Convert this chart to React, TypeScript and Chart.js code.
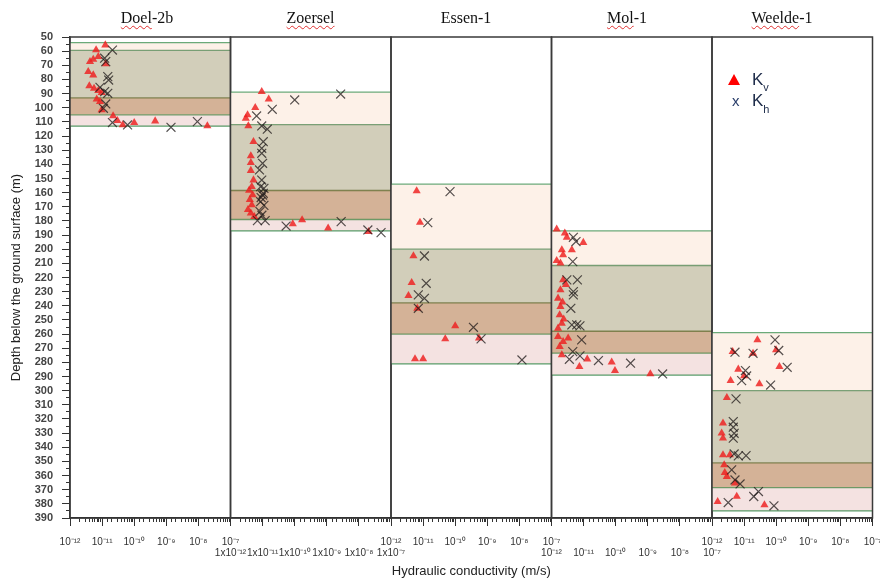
import React, { useEffect, useRef } from 'react';
import { Chart, registerables } from 'chart.js';
Chart.register(...registerables);

// ---------- data ----------
const wells = ['Doel-2b', 'Zoersel', 'Essen-1', 'Mol-1', 'Weelde-1'];
const xMin = 1e-12;
const xMax = 1e-7;
const depthMin = 50;
const depthMax = 390;

// band boundaries (depth, m): peach / olive / brown / pink
const doelBands = [54, 59.5, 93, 105, 113];
const zoerselBands = [89, 112, 158.5, 179, 187];
const essenBands = [154, 200, 238, 260, 281];
const molBands = [187, 211.5, 258, 273.5, 289];
const weeldeBands = [259, 300, 351, 368.5, 385];

// [K (m/s), depth (m)]
const doelKv = [[1.26e-11, 55.7], [6.5e-12, 59.2], [7.6e-12, 63.9], [5.3e-12, 65.8], [4.2e-12, 67.4], [1.3e-11, 69.1], [3.7e-12, 74.5], [5.3e-12, 76.9], [4.0e-12, 84.6], [5.6e-12, 86.3], [7.6e-12, 87.9], [9.7e-12, 89.3], [6.8e-12, 94.0], [8.6e-12, 95.7], [9.7e-12, 101.6], [2.2e-11, 105.8], [3.0e-11, 109.1], [4.4e-11, 112.2], [1.0e-10, 110.5], [4.5e-10, 109.4], [1.9e-8, 112.9]];
const doelKh = [[2.1e-11, 59.2], [1.2e-11, 65.0], [1.3e-11, 67.4], [1.5e-11, 78.0], [1.6e-11, 80.4], [8.6e-12, 85.6], [1.2e-11, 88.6], [1.5e-11, 89.8], [1.3e-11, 97.3], [1.1e-11, 100.4], [2.1e-11, 110.5], [6.2e-11, 112.2], [1.4e-9, 113.8], [9.3e-9, 109.8]];

const zoerselKv = [[9.4e-12, 88.6], [1.55e-11, 94.0], [5.9e-12, 99.9], [3.4e-12, 105.1], [3.0e-12, 107.5], [3.6e-12, 112.9], [5.2e-12, 124.0], [4.3e-12, 134.1], [4.3e-12, 138.8], [4.3e-12, 144.4], [5.2e-12, 151.1], [4.6e-12, 155.8], [3.8e-12, 158.5], [4.9e-12, 161.7], [4.0e-12, 165.0], [4.6e-12, 168.7], [3.5e-12, 172.0], [4.3e-12, 174.6], [5.5e-12, 177.0], [8.7e-11, 182.2], [1.7e-10, 179.3], [1.1e-9, 185.2], [2.0e-8, 187.6]];
const zoerselKh = [[2.7e-9, 90.3], [1.0e-10, 94.5], [2.0e-11, 101.1], [6.5e-12, 105.8], [9.4e-12, 112.9], [1.4e-11, 115.2], [1.05e-11, 124.0], [9.4e-12, 128.7], [9.4e-12, 132.2], [1.0e-11, 139.3], [8.0e-12, 144.0], [9.4e-12, 151.1], [8.7e-12, 155.8], [1.1e-11, 157.0], [1.05e-11, 160.5], [1.0e-11, 161.7], [9.0e-12, 163.5], [8.7e-12, 166.4], [1.1e-11, 169.0], [8.3e-12, 173.4], [9.5e-12, 176.0], [6.9e-12, 179.8], [1.2e-11, 179.8], [5.4e-11, 183.6], [2.8e-9, 180.5], [1.9e-8, 186.4], [4.9e-8, 188.3]];

const essenKv = [[6.3e-12, 158.8], [8.0e-12, 181.0], [5.0e-12, 204.8], [4.4e-12, 223.6], [3.5e-12, 232.8], [6.6e-12, 241.8], [1.0e-10, 254.2], [4.9e-11, 263.4], [5.5e-10, 262.9], [5.6e-12, 277.6], [1.0e-11, 277.6]];
const essenKh = [[6.9e-11, 159.3], [1.4e-11, 181.2], [1.1e-11, 204.8], [1.25e-11, 224.1], [7.1e-12, 232.3], [1.1e-11, 234.7], [7.1e-12, 241.8], [3.7e-10, 255.2], [6.4e-10, 263.4], [1.2e-8, 278.3]];

const molKv = [[1.45e-12, 185.9], [2.6e-12, 188.7], [3.0e-12, 191.6], [9.8e-12, 195.3], [4.3e-12, 200.5], [2.1e-12, 200.5], [2.3e-12, 204.1], [1.45e-12, 208.1], [1.9e-12, 209.9], [2.3e-12, 221.7], [2.8e-12, 225.0], [1.9e-12, 228.8], [1.6e-12, 234.7], [2.2e-12, 237.5], [1.9e-12, 240.6], [1.8e-12, 246.5], [2.4e-12, 249.5], [2.1e-12, 252.4], [1.6e-12, 255.9], [1.6e-12, 261.8], [3.3e-12, 262.9], [2.3e-12, 265.3], [1.8e-12, 268.8], [2.1e-12, 274.7], [7.4e-12, 283.0], [1.3e-11, 277.8], [7.5e-11, 279.9], [9.5e-11, 285.8], [1.2e-9, 288.2]];
const molKh = [[4.8e-12, 191.6], [5.8e-12, 194.6], [4.6e-12, 208.8], [6.4e-12, 221.7], [3.0e-12, 221.7], [4.8e-12, 230.0], [4.8e-12, 232.3], [4.0e-12, 241.8], [4.3e-12, 253.5], [6.1e-12, 253.5], [7.7e-12, 254.2], [8.7e-12, 264.1], [4.6e-12, 272.4], [3.6e-12, 277.8], [7.7e-12, 275.4], [2.9e-11, 278.7], [2.9e-10, 280.6], [2.9e-9, 288.2]];

const weeldeKv = [[2.6e-11, 264.1], [4.4e-12, 272.4], [1.9e-11, 273.6], [9.9e-11, 271.2], [6.6e-12, 284.9], [1.0e-11, 289.6], [1.26e-10, 283.0], [3.8e-12, 292.9], [3.0e-11, 295.2], [2.9e-12, 304.9], [2.2e-12, 323.0], [2.0e-12, 330.1], [2.2e-12, 333.6], [2.2e-12, 345.4], [3.6e-12, 345.4], [2.4e-12, 352.5], [2.5e-12, 357.9], [2.9e-12, 360.7], [5.2e-12, 365.4], [5.9e-12, 374.8], [1.5e-12, 378.4], [4.3e-11, 380.7]];
const weeldeKh = [[9.2e-11, 264.1], [5.2e-12, 272.8], [1.9e-11, 273.6], [1.2e-10, 271.6], [2.2e-10, 283.5], [1.1e-11, 285.8], [1.2e-11, 289.6], [8.4e-12, 292.9], [6.7e-11, 296.0], [5.6e-12, 305.8], [4.6e-12, 321.8], [4.6e-12, 325.8], [4.9e-12, 330.1], [4.6e-12, 333.6], [4.9e-12, 344.7], [6.6e-12, 346.1], [1.15e-11, 345.9], [4.1e-12, 356.0], [5.2e-12, 363.1], [7.5e-12, 365.9], [3.2e-12, 379.1], [2.0e-11, 374.8], [2.8e-11, 371.3], [8.5e-11, 381.4]];

const bandSets = [doelBands, zoerselBands, essenBands, molBands, weeldeBands];
const kvSets = [doelKv, zoerselKv, essenKv, molKv, weeldeKv];
const khSets = [doelKh, zoerselKh, essenKh, molKh, weeldeKh];

// ---------- styling / layout ----------
const W = 880;
const H = 581;
const edges = [70, 230.5, 391, 551.5, 712, 872.5];
const plotTop = 37;
const xAxisHeight = 63;
const titleCenters = [147, 310.5, 466, 627, 782];
const labelRow = [0, 1, 0, 1, 0];
const labelPrefix = ['', '1x', '', '', ''];
const bandFills = ['#FDF1E8', '#D2CEBA', '#D4B297', '#F4E2E1'];
const boundaryColors = ['rgba(70,150,90,0.8)', 'rgba(90,140,90,0.8)', 'rgba(110,115,60,0.85)', 'rgba(80,140,80,0.8)', 'rgba(60,140,80,0.85)'];

const SUP: Record<string, string> = { '-': '\u207B', '0': '\u2070', '1': '\u00B9', '2': '\u00B2', '3': '\u00B3', '4': '\u2074', '5': '\u2075', '6': '\u2076', '7': '\u2077', '8': '\u2078', '9': '\u2079' };
const sup = (n: number) => String(n).split('').map((c) => SUP[c] || c).join('');
const isDecade = (v: number) => Math.abs(Math.log10(v) - Math.round(Math.log10(v))) < 1e-6;

const framePlugin = {
  id: 'frame',
  afterDraw(chart: any) {
    const { ctx, chartArea: a } = chart;
    ctx.save();
    ctx.strokeStyle = '#3a3a3a';
    ctx.lineWidth = 1.5;
    ctx.strokeRect(a.left, a.top, a.right - a.left, a.bottom - a.top);
    ctx.restore();
  },
};

function buildConfig(i: number): any {
  const first = i === 0;
  const datasets: any[] = [
    {
      label: 'Kh',
      data: khSets[i].map(([x, y]) => ({ x, y })),
      showLine: false,
      pointStyle: 'crossRot',
      pointRadius: 6.3,
      pointBorderColor: 'rgba(30,24,24,0.75)',
      pointBackgroundColor: 'rgba(0,0,0,0)',
      pointBorderWidth: 1.2,
      order: 0,
      xAxisID: 'x',
      yAxisID: 'y',
    },
    {
      label: 'Kv',
      data: kvSets[i].map(([x, y]) => ({ x, y })),
      showLine: false,
      pointStyle: 'triangle',
      pointRadius: 4.7,
      pointBackgroundColor: 'rgba(238,30,30,0.82)',
      pointBorderWidth: 0,
      order: 1,
      xAxisID: 'x',
      yAxisID: 'y',
    },
  ];
  const bands = bandSets[i];
  bands.forEach((d, j) => {
    datasets.push({
      label: 'band' + j,
      data: [{ x: xMin, y: d }, { x: xMax, y: d }],
      borderColor: boundaryColors[j],
      borderWidth: 1.3,
      pointRadius: 0,
      tension: 0,
      fill: j < bands.length - 1 ? '+1' : false,
      backgroundColor: j < bandFills.length ? bandFills[j] : 'rgba(0,0,0,0)',
      order: 2,
      xAxisID: 'x',
      yAxisID: 'y',
    });
  });

  const scales: any = {
    xt: {
      type: 'logarithmic',
      position: 'bottom',
      min: xMin,
      max: xMax,
      weight: 0,
      afterBuildTicks: (s: any) => {
        s.ticks = s.ticks.filter((t: any) => isDecade(t.value));
      },
      afterFit: (s: any) => {
        s.height = 0;
        s.paddingLeft = 0;
        s.paddingRight = 0;
      },
      ticks: { display: false },
      grid: { drawOnChartArea: false, tickLength: 8, tickColor: '#333', tickWidth: 1 },
      border: { display: false },
    },
    x: {
      type: 'logarithmic',
      position: 'bottom',
      min: xMin,
      max: xMax,
      weight: 1,
      afterFit: (s: any) => {
        s.height = xAxisHeight;
        s.paddingLeft = 0;
        s.paddingRight = 0;
      },
      ticks: {
        autoSkip: false,
        maxRotation: 0,
        minRotation: 0,
        padding: labelRow[i] ? 25 : 14,
        color: '#333',
        font: { size: 10 },
        callback: (v: any) => {
          const n = Number(v);
          return isDecade(n) ? labelPrefix[i] + '10' + sup(Math.round(Math.log10(n))) : '';
        },
      },
      grid: { drawOnChartArea: false, tickLength: 4, tickColor: '#333', tickWidth: 1 },
      border: { display: true, color: '#222', width: 1.5 },
      title: i === 2
        ? { display: true, text: 'Hydraulic conductivity (m/s)', font: { size: 13 }, color: '#222', padding: { top: 0, bottom: 2 } }
        : { display: false },
    },
  };

  if (first) {
    scales.yt = {
      type: 'linear',
      position: 'left',
      min: depthMin,
      max: depthMax,
      reverse: true,
      weight: 0,
      afterFit: (s: any) => {
        s.width = 0;
        s.paddingTop = 0;
        s.paddingBottom = 0;
      },
      ticks: { display: false, stepSize: 5 },
      grid: { drawOnChartArea: false, tickLength: 4, tickColor: '#333', tickWidth: 1 },
      border: { display: false },
    };
    scales.y = {
      type: 'linear',
      position: 'left',
      min: depthMin,
      max: depthMax,
      reverse: true,
      weight: 1,
      afterFit: (s: any) => {
        s.width = edges[0];
        s.paddingTop = 0;
        s.paddingBottom = 0;
      },
      ticks: { stepSize: 10, autoSkip: false, padding: 9, color: '#444', font: { size: 11, weight: 'bold' } },
      grid: { drawOnChartArea: false, tickLength: 8, tickColor: '#333', tickWidth: 1 },
      border: { display: true, color: '#333', width: 1.5 },
      title: { display: true, text: 'Depth below the ground surface (m)', font: { size: 13 }, color: '#222', padding: { top: 9, bottom: 0 } },
    };
  } else {
    scales.y = { type: 'linear', display: false, min: depthMin, max: depthMax, reverse: true };
  }

  return {
    type: 'line',
    data: { datasets },
    options: {
      animation: false,
      responsive: false,
      devicePixelRatio: 1,
      events: [],
      layout: {
        padding: {
          left: first ? 0 : edges[i],
          right: W - edges[i + 1],
          top: plotTop,
          bottom: 0,
        },
      },
      plugins: {
        legend: { display: false },
        tooltip: { enabled: false },
        title: { display: false },
        filler: { drawTime: 'beforeDatasetsDraw' },
      },
      scales,
    },
    plugins: [framePlugin],
  };
}

function Title({ i }: { i: number }) {
  const wavy: React.CSSProperties = { textDecoration: 'underline wavy #e03030', textDecorationThickness: '1px', textUnderlineOffset: '2px' };
  const name = wells[i];
  let content: React.ReactNode = name;
  if (i === 0) content = (<><span style={wavy}>Doel</span>-2b</>);
  if (i === 1) content = (<span style={wavy}>Zoersel</span>);
  if (i === 3) content = (<><span style={wavy}>Mol</span>-1</>);
  if (i === 4) content = (<><span style={wavy}>Weelde</span>-1</>);
  return (
    <div
      style={{
        position: 'absolute',
        left: titleCenters[i],
        top: 10,
        transform: 'translateX(-50%)',
        font: '16px "Liberation Serif", "Times New Roman", serif',
        lineHeight: '16px',
        color: '#111',
        whiteSpace: 'nowrap',
      }}
    >
      {content}
    </div>
  );
}

export default function App() {
  const refs = [useRef<HTMLCanvasElement>(null), useRef<HTMLCanvasElement>(null), useRef<HTMLCanvasElement>(null), useRef<HTMLCanvasElement>(null), useRef<HTMLCanvasElement>(null)];

  useEffect(() => {
    document.body.style.margin = '0';
    Chart.defaults.font.family = '"Liberation Sans", Arial, sans-serif';
    const charts = refs.map((r, i) => new Chart(r.current as HTMLCanvasElement, buildConfig(i)));
    return () => charts.forEach((c) => c.destroy());
  }, []);

  const sans = '"Liberation Sans", Arial, sans-serif';
  return (
    <div style={{ position: 'absolute', left: 0, top: 0, width: W, height: H, background: '#fff', overflow: 'hidden' }}>
      {refs.map((r, i) => (
        <canvas key={i} ref={r} width={W} height={H} style={{ position: 'absolute', left: 0, top: 0, width: W, height: H }} />
      ))}
      {wells.map((_, i) => (
        <Title key={i} i={i} />
      ))}
      <div style={{ position: 'absolute', left: 727.5, top: 74, width: 0, height: 0, borderLeft: '6.2px solid transparent', borderRight: '6.2px solid transparent', borderBottom: '11.5px solid #ff0000' }} />
      <div style={{ position: 'absolute', left: 752, top: 71, font: `17px ${sans}`, lineHeight: '17px', color: '#1c2a48', whiteSpace: 'nowrap' }}>
        K<span style={{ fontSize: 11, position: 'relative', top: 6 }}>v</span>
      </div>
      <div style={{ position: 'absolute', left: 732, top: 93, font: `15px ${sans}`, lineHeight: '15px', color: '#2b3f6b' }}>x</div>
      <div style={{ position: 'absolute', left: 752, top: 92, font: `17px ${sans}`, lineHeight: '17px', color: '#1c2a48', whiteSpace: 'nowrap' }}>
        K<span style={{ fontSize: 11, position: 'relative', top: 7 }}>h</span>
      </div>
    </div>
  );
}
